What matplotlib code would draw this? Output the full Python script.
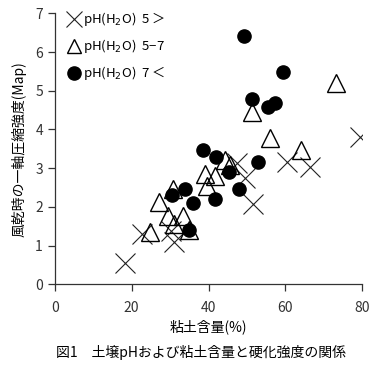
import matplotlib
matplotlib.use("Agg")
import matplotlib.pyplot as plt

plt.rcParams['font.family'] = ['Noto Sans CJK JP', 'DejaVu Sans']

# pH < 5 (cross)
x_low = [18.3, 22.7, 30.3, 31.0, 47.3, 49.5, 51.7, 60.3, 66.4, 79.4]
y_low = [0.56, 1.29, 1.38, 1.08, 3.14, 2.75, 2.07, 3.16, 3.02, 3.81]
# pH 5-7 (triangle)
x_mid = [24.9, 27.0, 29.5, 31.1, 33.4, 34.8, 30.8, 39.2, 41.8, 39.5, 44.2, 45.5, 51.3, 56.0, 64.1, 73.2]
y_mid = [1.36, 2.13, 1.76, 1.55, 1.76, 1.40, 2.45, 2.85, 2.81, 2.54, 3.22, 3.08, 4.44, 3.78, 3.47, 5.19]
# pH > 7 (circle)
x_high = [30.4, 33.8, 35.0, 36.0, 38.5, 41.6, 41.9, 45.3, 47.8, 49.2, 51.3, 52.8, 55.6, 57.4, 59.5]
y_high = [2.31, 2.45, 1.40, 2.11, 3.47, 2.20, 3.28, 2.91, 2.45, 6.41, 4.78, 3.15, 4.57, 4.67, 5.48]

labels = ['pH(H$_2$O)  5 ＞', 'pH(H$_2$O)  5−7', 'pH(H$_2$O)  7 ＜']

fig = plt.figure(figsize=(3.79, 3.70), dpi=100)
ax = fig.add_axes([0.1443, 0.2316, 0.8117, 0.7325])

ax.plot(x_low, y_low, 'x', ms=14, mew=0.8, color='#222222', label=labels[0])
ax.plot(x_mid, y_mid, '^', ms=12.5, mew=1.0, mfc='none', mec='black', label=labels[1])
ax.plot(x_high, y_high, 'o', ms=9.5, color='black', label=labels[2])

ax.set_xlim(0, 80)
ax.set_ylim(0, 7)
ax.set_xticks([0, 20, 40, 60, 80])
ax.set_yticks(range(8))
for s in ['top', 'right']:
    ax.spines[s].set_visible(False)
for s in ['left', 'bottom']:
    ax.spines[s].set_color('#333333')
    ax.spines[s].set_linewidth(0.9)
ax.tick_params(direction='out', length=5, width=0.9, colors='#333333',
               labelsize=10, labelcolor='#333333')
ax.tick_params(axis='x', pad=7)

ax.set_xlabel('粘土含量(%)', fontsize=10, labelpad=3)
ax.set_ylabel('風乾時の一軸圧縮強度(Map)', fontsize=10, labelpad=6)

leg = ax.legend(loc='upper left', bbox_to_anchor=(0.011, 1.04), frameon=False,
                fontsize=9.5, handletextpad=0.1, labelspacing=0.68,
                borderaxespad=0.2, handlelength=1.2)
for h, ms in zip(leg.legend_handles, [11.5, 10.5, 9.5]):
    h.set_markersize(ms)

fig.text(0.53, 0.035, '図1　土壌pHおよび粘土含量と硬化強度の関係', ha='center',
         fontsize=10)

fig.savefig('out.png', dpi=100)
